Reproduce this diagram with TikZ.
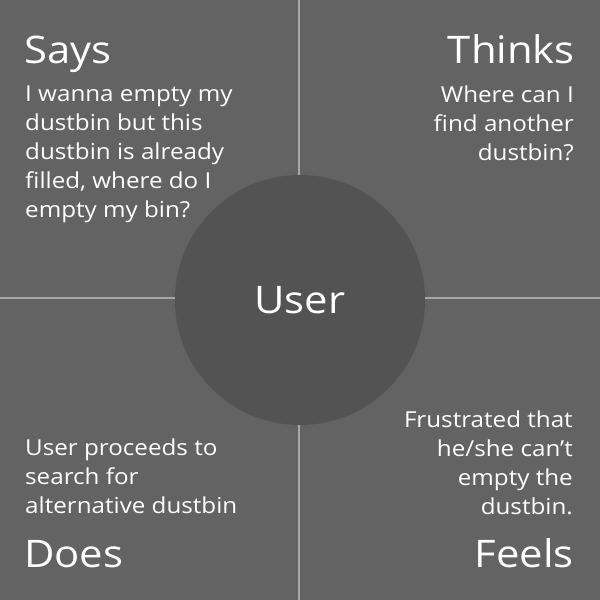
\documentclass[tikz,border=0pt]{standalone}
\usepackage{fontspec}
\setmainfont{Open Sans}[FakeStretch=1.1]
\definecolor{bgc}{HTML}{636363}
\definecolor{circc}{HTML}{535353}
\definecolor{linec}{HTML}{A8A8A8}
\begin{document}
\begin{tikzpicture}[x=1pt,y=-1pt,
  title/.style={text=white,font=\fontsize{38}{40}\selectfont,inner sep=0pt},
  body/.style={text=white,font=\fontsize{22}{29}\selectfont,inner sep=0pt}]
\fill[bgc] (0,0) rectangle (600,600);
\useasboundingbox (0,0) rectangle (600,600);
\draw[linec,line width=2pt] (299,0) -- (299,600);
\draw[linec,line width=2pt] (0,298) -- (600,298);
\node[circle,fill=circc,minimum size=250pt,inner sep=0pt] (user) at (300,300) {};
\node[title,anchor=base] (usert) at (300,313) {User};
\node[title,anchor=base west] (says) at (24,63) {Says};
\node[body,anchor=base west,align=left] (saysb) at (25,217) {I wanna empty my\\dustbin but this\\dustbin is already\\filled, where do I\\empty my bin?};
\node[title,anchor=base east] (thinks) at (575,63) {Thinks};
\node[body,anchor=base east,align=right] (thinksb) at (574,160) {Where can I\\find another\\dustbin?};
\node[body,anchor=base west,align=left] (doesb) at (25,513) {User proceeds to\\search for\\alternative dustbin};
\node[title,anchor=base west] (does) at (24,567) {Does};
\node[body,anchor=base east,align=right] (feelsb) at (573,514) {Frustrated that\\he/she can’t\\empty the\\dustbin.};
\node[title,anchor=base east] (feels) at (574,567) {Feels};
\end{tikzpicture}
\end{document}
